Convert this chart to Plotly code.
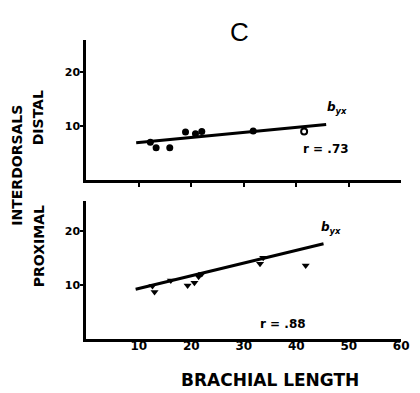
import plotly.graph_objects as go

# ---- data ----
distal_x = [12.2, 13.3, 15.9, 18.9, 20.8, 22.0, 31.8]
distal_y = [7.0, 6.0, 6.0, 8.9, 8.6, 9.0, 9.1]
distal_open_x = [41.5]
distal_open_y = [9.0]
distal_fit_x = [9.5, 45.7]
distal_fit_y = [6.9, 10.3]

prox_x = [12.6, 13.0, 16.1, 19.3, 20.6, 21.4, 22.0, 33.1, 33.7, 41.8]
prox_y = [9.8, 8.7, 10.8, 9.9, 10.4, 11.5, 12.0, 13.9, 15.0, 13.6]
prox_fit_x = [9.4, 45.2]
prox_fit_y = [9.2, 17.6]

x_ticks = [10, 20, 30, 40, 50, 60]
y_ticks = [10, 20]
r_distal = "r = .73"
r_prox = "r = .88"

W, H = 420, 393
def px(v): return v / W
def py(v): return 1 - v / H

BOLD = dict(family="DejaVu Sans", color="black", weight="bold")

fig = go.Figure()
# top panel
fig.add_trace(go.Scatter(x=distal_fit_x, y=distal_fit_y, mode="lines",
                         line=dict(color="black", width=3), xaxis="x", yaxis="y"))
fig.add_trace(go.Scatter(x=distal_x, y=distal_y, mode="markers",
                         marker=dict(color="black", size=7, symbol="circle"),
                         xaxis="x", yaxis="y"))
fig.add_trace(go.Scatter(x=distal_open_x, y=distal_open_y, mode="markers",
                         marker=dict(color="white", size=6, symbol="circle",
                                     line=dict(color="black", width=2)),
                         xaxis="x", yaxis="y"))
# bottom panel
fig.add_trace(go.Scatter(x=prox_fit_x, y=prox_fit_y, mode="lines",
                         line=dict(color="black", width=3), xaxis="x2", yaxis="y2"))
fig.add_trace(go.Scatter(x=prox_x, y=prox_y, mode="markers",
                         marker=dict(color="black", size=7, symbol="triangle-down"),
                         xaxis="x2", yaxis="y2"))

xdom = [px(88), px(409)]
axis_common = dict(showline=True, linecolor="black", linewidth=3, showgrid=False,
                   zeroline=False, ticks="outside", tickcolor="black", tickwidth=2,
                   ticklen=4, fixedrange=True)
fig.update_layout(
    width=W, height=H, margin=dict(l=0, r=0, t=0, b=0),
    paper_bgcolor="white", plot_bgcolor="white", showlegend=False,
    xaxis=dict(axis_common, domain=xdom, range=[0, 60], tickvals=x_ticks[:-1],
               showticklabels=False, anchor="y"),
    yaxis=dict(axis_common, domain=[py(180), py(40)], range=[0, 26], tickvals=y_ticks,
               ticktext=[str(v) for v in y_ticks], tickfont=dict(BOLD, size=11),
               ticklen=3, ticklabelstandoff=-2, anchor="x"),
    xaxis2=dict(axis_common, domain=xdom, range=[0, 60], tickvals=x_ticks,
                ticktext=[str(v) for v in x_ticks], tickfont=dict(BOLD, size=12),
                ticklen=0, ticklabelstandoff=-6, anchor="y2"),
    yaxis2=dict(axis_common, domain=[py(339), py(201)], range=[0, 25.5], tickvals=y_ticks,
                ticktext=[str(v) for v in y_ticks], tickfont=dict(BOLD, size=11),
                ticklen=3, ticklabelstandoff=-2, anchor="x2"),
)

C = dict(xanchor="center", yanchor="middle", showarrow=False)
ann = []
ann.append(dict(C, text="C", x=px(244), y=py(32), xref="paper", yref="paper",
                font=dict(family="Liberation Sans", size=26, color="black")))
ann.append(dict(C, text="<i>b<sub>yx</sub></i>", x=47.8, y=13.4, xref="x", yref="y",
                font=dict(BOLD, size=12)))
ann.append(dict(C, text=r_distal, x=45.6, y=5.8, xref="x", yref="y",
                font=dict(BOLD, size=12)))
ann.append(dict(C, text="<i>b<sub>yx</sub></i>", x=46.7, y=20.5, xref="x2", yref="y2",
                font=dict(BOLD, size=12)))
ann.append(dict(C, text=r_prox, x=37.4, y=2.8, xref="x2", yref="y2",
                font=dict(BOLD, size=12)))
ann.append(dict(C, text="BRACHIAL LENGTH", x=px(275), y=py(380), xref="paper", yref="paper",
                font=dict(BOLD, size=17)))
ann.append(dict(C, text="INTERDORSALS", x=px(17), y=py(165), xref="paper", yref="paper",
                textangle=-90, font=dict(BOLD, size=14)))
ann.append(dict(C, text="DISTAL", x=px(39), y=py(118), xref="paper", yref="paper",
                textangle=-90, font=dict(BOLD, size=14)))
ann.append(dict(C, text="PROXIMAL", x=px(40), y=py(246), xref="paper", yref="paper",
                textangle=-90, font=dict(BOLD, size=14)))
fig.update_layout(annotations=ann)

fig.write_html("out.html")
